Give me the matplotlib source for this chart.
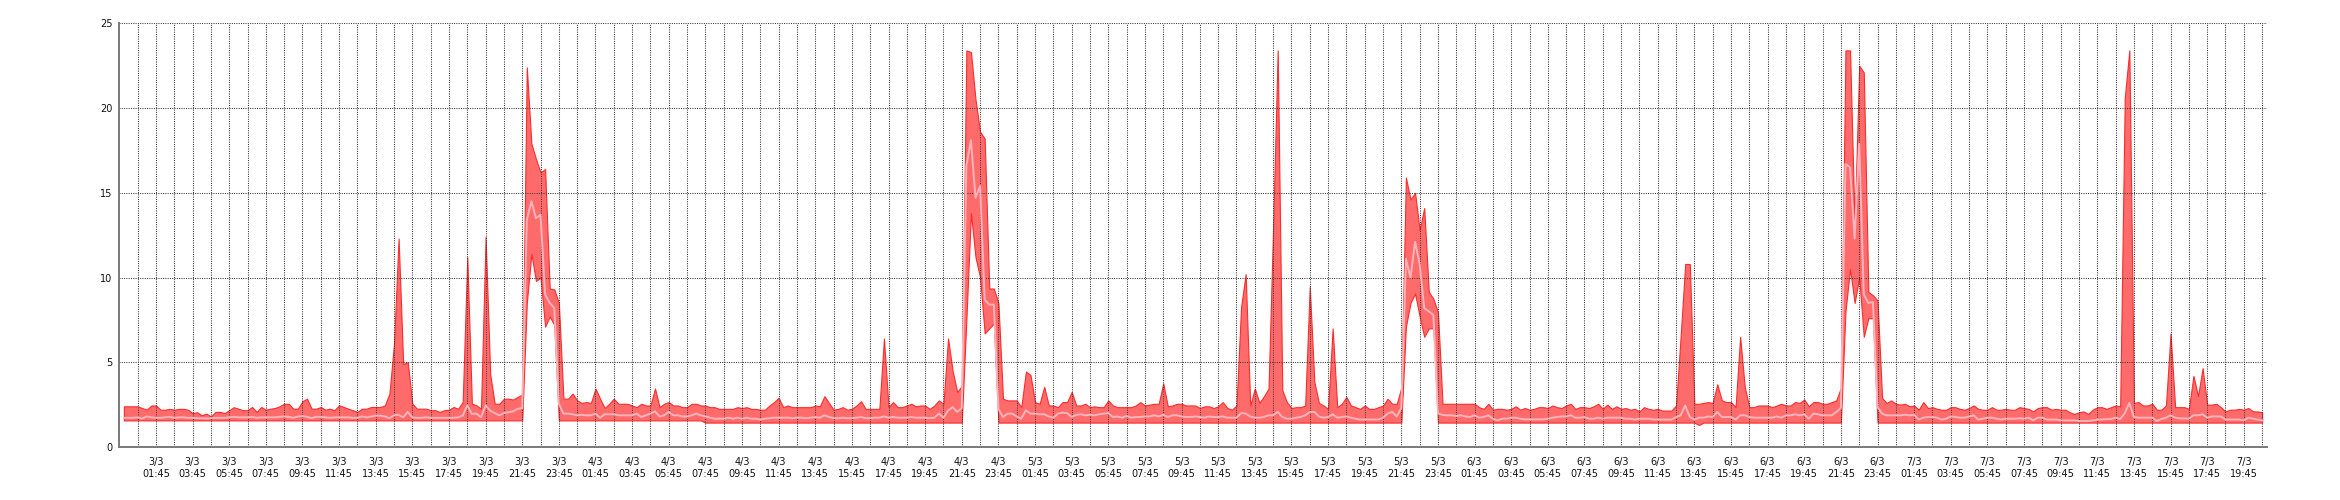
import matplotlib
matplotlib.use("Agg")
import matplotlib.pyplot as plt
import matplotlib.dates as mdates
from matplotlib.ticker import FixedLocator
import pandas as pd

# ---------------- data (15-minute samples from 3/3 00:00) ----------------
start_time = "2023-03-03 00:00"
sample_freq = "15min"

upper = [
    2.4, 2.4, 2.4, 2.4, 2.3, 2.2, 2.45, 2.45, 2.2, 2.2, 2.25, 2.2, 2.25, 2.25, 2.2, 2.0,
    2.05, 1.87, 1.97, 1.8, 2.07, 2.07, 2.0, 2.17, 2.35, 2.26, 2.17, 2.17, 2.36, 2.07, 2.36, 2.2,
    2.26, 2.3, 2.4, 2.55, 2.55, 2.26, 2.26, 2.7, 2.85, 2.26, 2.26, 2.36, 2.2, 2.26, 2.17, 2.46,
    2.36, 2.26, 2.17, 2.07, 2.26, 2.26, 2.36, 2.36, 2.36, 2.46, 3.15, 6.1, 12.3, 4.9, 5.0, 2.55,
    2.26, 2.26, 2.26, 2.17, 2.17, 2.07, 2.17, 2.2, 2.36, 2.26, 2.65, 11.2, 2.56, 2.46, 2.26, 12.4,
    4.3, 2.55, 2.55, 2.85, 2.85, 2.8, 2.95, 3.1, 22.4, 17.9, 17.0, 16.2, 16.4, 9.35, 9.3, 8.5,
    2.85, 2.85, 3.15, 2.75, 2.6, 2.65, 2.6, 3.45, 2.85, 2.3, 2.55, 2.85, 2.55, 2.55, 2.55, 2.45,
    2.35, 2.55, 2.45, 2.45, 3.45, 2.35, 2.55, 2.65, 2.45, 2.45, 2.35, 2.35, 2.55, 2.55, 2.45, 2.45,
    2.35, 2.35, 2.25, 2.25, 2.25, 2.25, 2.35, 2.3, 2.35, 2.25, 2.25, 2.2, 2.2, 2.45, 2.65, 2.9,
    2.35, 2.45, 2.35, 2.35, 2.35, 2.35, 2.35, 2.45, 2.4, 3.0, 2.6, 2.2, 2.25, 2.35, 2.2, 2.25,
    2.45, 2.7, 2.25, 2.25, 2.25, 2.25, 6.4, 2.35, 2.65, 2.35, 2.35, 2.45, 2.55, 2.4, 2.45, 2.45,
    2.25, 2.45, 2.75, 2.55, 6.4, 4.5, 3.25, 3.6, 23.4, 23.3, 20.5, 18.6, 18.2, 9.35, 9.35, 8.5,
    2.85, 2.75, 2.75, 2.75, 2.35, 4.45, 4.25, 2.65, 2.55, 3.55, 2.45, 2.45, 2.35, 2.65, 2.65, 3.25,
    2.45, 2.45, 2.55, 2.35, 2.4, 2.35, 2.35, 2.75, 2.45, 2.35, 2.35, 2.35, 2.35, 2.45, 2.65, 2.45,
    2.5, 2.55, 2.55, 3.75, 2.4, 2.45, 2.55, 2.55, 2.45, 2.45, 2.45, 2.3, 2.4, 2.4, 2.3, 2.4,
    2.65, 2.3, 2.2, 2.45, 8.25, 10.2, 2.45, 3.45, 2.6, 3.0, 3.45, 13.0, 23.4, 3.35, 2.65, 2.3,
    2.35, 2.35, 2.45, 9.45, 3.85, 2.6, 2.45, 2.25, 7.0, 2.35, 2.55, 2.95, 2.45, 2.35, 2.25, 2.45,
    2.25, 2.25, 2.35, 2.45, 2.85, 2.55, 2.55, 3.5, 15.9, 14.6, 15.0, 12.8, 14.1, 9.15, 8.75, 7.95,
    2.55, 2.55, 2.55, 2.55, 2.55, 2.55, 2.55, 2.55, 2.35, 2.25, 2.55, 2.2, 2.25, 2.25, 2.2, 2.25,
    2.4, 2.2, 2.3, 2.2, 2.25, 2.35, 2.35, 2.3, 2.45, 2.35, 2.3, 2.45, 2.55, 2.25, 2.35, 2.35,
    2.3, 2.4, 2.55, 2.25, 2.5, 2.25, 2.4, 2.25, 2.3, 2.2, 2.25, 2.1, 2.35, 2.25, 2.2, 2.25,
    2.15, 2.15, 2.15, 2.45, 6.5, 10.8, 10.8, 2.55, 2.55, 2.6, 2.65, 2.6, 3.7, 2.75, 2.65, 2.65,
    2.35, 6.5, 3.55, 2.35, 2.35, 2.45, 2.45, 2.45, 2.35, 2.45, 2.55, 2.45, 2.45, 2.65, 2.6, 2.8,
    2.4, 2.65, 2.65, 2.55, 2.55, 2.65, 2.75, 3.5, 23.4, 23.4, 13.0, 22.5, 22.1, 9.15, 8.95, 8.65,
    2.9, 2.6, 2.75, 2.55, 2.5, 2.55, 2.4, 2.45, 2.2, 2.65, 2.3, 2.35, 2.25, 2.2, 2.2, 2.35,
    2.35, 2.25, 2.2, 2.3, 2.45, 2.25, 2.2, 2.2, 2.35, 2.2, 2.2, 2.25, 2.2, 2.2, 2.35, 2.3,
    2.25, 2.1, 2.3, 2.35, 2.35, 2.2, 2.25, 2.2, 2.2, 2.05, 1.95, 2.05, 2.1, 1.95, 2.2, 2.35,
    2.35, 2.25, 2.35, 2.45, 2.4, 20.6, 23.4, 2.6, 2.65, 2.45, 2.45, 2.55, 2.2, 2.2, 2.45, 6.7,
    2.35, 2.35, 2.35, 2.25, 4.2, 3.0, 4.65, 2.5, 2.5, 2.55, 2.35, 2.1, 2.2, 2.2, 2.25, 2.2,
    2.3, 2.1, 2.1, 2.05,
]

lower = [
    1.57, 1.57, 1.57, 1.57, 1.57, 1.57, 1.57, 1.57, 1.57, 1.57, 1.57, 1.57, 1.57, 1.57, 1.57, 1.57,
    1.57, 1.57, 1.57, 1.57, 1.57, 1.57, 1.57, 1.57, 1.57, 1.57, 1.57, 1.57, 1.57, 1.57, 1.57, 1.57,
    1.57, 1.57, 1.57, 1.57, 1.57, 1.57, 1.57, 1.57, 1.57, 1.57, 1.57, 1.57, 1.57, 1.57, 1.57, 1.57,
    1.57, 1.57, 1.57, 1.57, 1.57, 1.57, 1.57, 1.57, 1.57, 1.57, 1.57, 1.57, 1.57, 1.57, 1.57, 1.57,
    1.57, 1.57, 1.57, 1.57, 1.57, 1.57, 1.57, 1.57, 1.57, 1.57, 1.57, 1.57, 1.57, 1.57, 1.57, 1.57,
    1.57, 1.57, 1.57, 1.57, 1.57, 1.57, 1.57, 1.57, 8.5, 11.4, 9.8, 10.0, 7.1, 7.7, 7.2, 1.57,
    1.57, 1.57, 1.57, 1.57, 1.57, 1.57, 1.57, 1.57, 1.57, 1.57, 1.57, 1.57, 1.57, 1.57, 1.57, 1.57,
    1.57, 1.57, 1.57, 1.57, 1.57, 1.57, 1.57, 1.57, 1.57, 1.57, 1.57, 1.57, 1.57, 1.57, 1.57, 1.44,
    1.44, 1.44, 1.44, 1.44, 1.44, 1.44, 1.44, 1.44, 1.44, 1.44, 1.44, 1.44, 1.44, 1.44, 1.44, 1.44,
    1.44, 1.44, 1.44, 1.44, 1.44, 1.44, 1.44, 1.44, 1.44, 1.44, 1.44, 1.44, 1.44, 1.44, 1.44, 1.44,
    1.44, 1.44, 1.44, 1.44, 1.44, 1.44, 1.44, 1.44, 1.44, 1.44, 1.44, 1.44, 1.44, 1.44, 1.44, 1.44,
    1.44, 1.44, 1.44, 1.44, 1.44, 1.44, 1.44, 1.44, 7.5, 13.8, 11.2, 10.0, 6.7, 7.0, 7.3, 1.44,
    1.44, 1.44, 1.44, 1.44, 1.44, 1.44, 1.44, 1.44, 1.44, 1.44, 1.44, 1.44, 1.44, 1.44, 1.44, 1.44,
    1.44, 1.44, 1.44, 1.44, 1.44, 1.44, 1.44, 1.44, 1.44, 1.44, 1.44, 1.44, 1.44, 1.44, 1.44, 1.44,
    1.44, 1.44, 1.44, 1.44, 1.44, 1.44, 1.44, 1.44, 1.44, 1.44, 1.44, 1.44, 1.44, 1.44, 1.44, 1.44,
    1.44, 1.44, 1.44, 1.44, 1.44, 1.44, 1.44, 1.44, 1.44, 1.44, 1.44, 1.44, 1.44, 1.44, 1.44, 1.44,
    1.44, 1.44, 1.44, 1.44, 1.44, 1.44, 1.44, 1.44, 1.44, 1.44, 1.44, 1.44, 1.44, 1.44, 1.44, 1.44,
    1.44, 1.44, 1.44, 1.44, 1.44, 1.44, 1.44, 1.44, 7.1, 8.5, 9.05, 7.7, 6.5, 7.0, 7.0, 1.44,
    1.44, 1.44, 1.44, 1.44, 1.44, 1.44, 1.44, 1.44, 1.44, 1.44, 1.44, 1.44, 1.44, 1.44, 1.44, 1.44,
    1.44, 1.44, 1.44, 1.44, 1.44, 1.44, 1.44, 1.44, 1.44, 1.44, 1.44, 1.44, 1.44, 1.44, 1.44, 1.44,
    1.44, 1.44, 1.44, 1.44, 1.44, 1.44, 1.44, 1.44, 1.44, 1.44, 1.44, 1.44, 1.44, 1.44, 1.44, 1.44,
    1.44, 1.44, 1.44, 1.44, 1.44, 1.44, 1.44, 1.44, 1.3, 1.44, 1.44, 1.44, 1.44, 1.44, 1.44, 1.44,
    1.44, 1.44, 1.44, 1.44, 1.44, 1.44, 1.44, 1.44, 1.44, 1.44, 1.44, 1.44, 1.44, 1.44, 1.44, 1.44,
    1.44, 1.44, 1.44, 1.44, 1.44, 1.44, 1.44, 1.44, 8.0, 10.5, 8.5, 10.0, 6.5, 7.6, 7.6, 1.44,
    1.44, 1.44, 1.44, 1.44, 1.44, 1.44, 1.44, 1.44, 1.44, 1.44, 1.44, 1.44, 1.44, 1.44, 1.44, 1.44,
    1.44, 1.44, 1.44, 1.44, 1.44, 1.44, 1.44, 1.44, 1.44, 1.44, 1.44, 1.44, 1.44, 1.44, 1.44, 1.44,
    1.44, 1.44, 1.44, 1.44, 1.44, 1.44, 1.44, 1.44, 1.44, 1.44, 1.44, 1.44, 1.44, 1.44, 1.44, 1.44,
    1.44, 1.44, 1.44, 1.44, 1.44, 1.44, 1.44, 1.44, 1.44, 1.44, 1.44, 1.44, 1.44, 1.44, 1.44, 1.44,
    1.44, 1.44, 1.44, 1.44, 1.44, 1.44, 1.44, 1.44, 1.44, 1.44, 1.44, 1.44, 1.44, 1.44, 1.44, 1.44,
    1.44, 1.44, 1.44, 1.44,
]

average = [
    1.72, 1.72, 1.72, 1.75, 1.68, 1.8, 1.75, 1.72, 1.72, 1.75, 1.78, 1.72, 1.75, 1.75, 1.72, 1.72,
    1.7, 1.7, 1.68, 1.7, 1.72, 1.72, 1.72, 1.75, 1.78, 1.75, 1.75, 1.75, 1.78, 1.72, 1.75, 1.75,
    1.75, 1.75, 1.78, 1.8, 1.78, 1.72, 1.8, 1.82, 1.78, 1.7, 1.78, 1.78, 1.75, 1.72, 1.75, 1.75,
    1.75, 1.75, 1.72, 1.72, 1.8, 1.75, 1.8, 1.85, 1.85, 1.8, 1.7, 1.87, 1.9, 1.75, 2.07, 1.75,
    1.72, 1.72, 1.75, 1.72, 1.72, 1.72, 1.72, 1.72, 1.72, 1.75, 1.85, 2.45, 1.95, 1.97, 1.75, 2.45,
    2.15, 2.0, 1.87, 2.0, 2.05, 2.1, 2.25, 2.3, 13.4, 14.5, 13.5, 13.7, 9.0, 8.5, 8.2, 2.55,
    1.97, 1.97, 1.93, 1.87, 1.9, 1.87, 1.87, 1.97, 1.73, 1.93, 1.93, 1.93, 1.87, 1.87, 1.87, 1.87,
    1.97, 1.77, 1.87, 1.97, 2.1, 1.8, 1.87, 2.07, 1.87, 1.87, 1.8, 1.8, 1.87, 1.97, 1.87, 1.8,
    1.73, 1.67, 1.67, 1.67, 1.73, 1.67, 1.73, 1.67, 1.73, 1.67, 1.67, 1.62, 1.67, 1.7, 1.73, 1.73,
    1.73, 1.73, 1.7, 1.73, 1.73, 1.7, 1.73, 1.77, 1.73, 1.87, 1.77, 1.7, 1.7, 1.73, 1.7, 1.7,
    1.73, 1.77, 1.7, 1.7, 1.73, 1.73, 1.8, 1.73, 1.77, 1.73, 1.73, 1.73, 1.77, 1.73, 1.73, 1.73,
    1.7, 1.73, 1.97, 1.73, 2.15, 2.35, 2.07, 2.3, 16.6, 18.1, 14.7, 15.4, 8.7, 8.4, 8.4, 2.25,
    1.77, 1.97, 1.97, 1.8, 1.67, 2.17, 1.97, 1.97, 1.93, 1.93, 1.8, 1.73, 1.97, 2.03, 2.0, 1.77,
    1.9, 1.93, 1.87, 1.9, 1.87, 1.93, 1.97, 2.0, 1.77, 1.8, 1.73, 1.83, 1.73, 1.77, 1.77, 1.8,
    1.8, 1.87, 1.8, 1.9, 1.77, 1.87, 1.87, 1.8, 1.77, 1.77, 1.8, 1.77, 1.73, 1.8, 1.77, 1.77,
    1.8, 1.73, 1.73, 1.73, 2.0, 1.97, 1.8, 1.73, 1.73, 1.77, 1.87, 1.87, 2.07, 1.77, 1.67, 1.67,
    1.73, 1.77, 1.87, 2.07, 2.07, 1.8, 1.73, 1.77, 1.93, 1.73, 1.77, 1.8, 1.73, 1.67, 1.62, 1.62,
    1.62, 1.62, 1.62, 1.73, 1.97, 2.07, 1.8, 2.3, 11.1, 10.0, 12.1, 10.8, 8.2, 8.0, 7.8, 1.97,
    1.9, 1.87, 1.87, 1.83, 1.87, 1.8, 1.77, 1.87, 1.73, 1.77, 1.87, 1.67, 1.57, 1.67, 1.67, 1.73,
    1.73, 1.67, 1.63, 1.63, 1.63, 1.63, 1.63, 1.67, 1.73, 1.77, 1.8, 1.8, 1.87, 1.73, 1.73, 1.77,
    1.67, 1.67, 1.73, 1.67, 1.73, 1.73, 1.73, 1.73, 1.67, 1.67, 1.62, 1.67, 1.67, 1.67, 1.63, 1.62,
    1.62, 1.62, 1.62, 1.77, 1.87, 2.45, 1.77, 1.62, 1.73, 1.73, 1.8, 1.77, 2.07, 1.77, 1.77, 1.77,
    1.62, 1.87, 1.87, 1.77, 1.73, 1.73, 1.73, 1.73, 1.73, 1.8, 1.73, 1.87, 1.87, 1.93, 1.87, 1.93,
    1.67, 1.97, 1.93, 1.87, 1.87, 1.87, 2.07, 2.3, 16.7, 16.5, 12.3, 17.9, 9.0, 8.5, 8.55, 2.35,
    1.97, 1.87, 1.87, 1.87, 1.87, 1.9, 1.87, 1.9, 1.62, 1.73, 1.77, 1.77, 1.73, 1.62, 1.67, 1.8,
    1.77, 1.73, 1.73, 1.8, 1.87, 1.62, 1.67, 1.73, 1.73, 1.67, 1.62, 1.67, 1.67, 1.67, 1.69, 1.67,
    1.73, 1.57, 1.73, 1.73, 1.62, 1.62, 1.62, 1.57, 1.57, 1.57, 1.57, 1.53, 1.53, 1.53, 1.57, 1.62,
    1.62, 1.65, 1.65, 1.73, 1.65, 2.0, 2.6, 1.77, 1.73, 1.73, 1.73, 1.73, 1.53, 1.65, 1.73, 1.87,
    1.73, 1.69, 1.69, 1.67, 1.87, 1.87, 1.93, 1.73, 1.8, 1.8, 1.8, 1.62, 1.62, 1.62, 1.62, 1.57,
    1.73, 1.67, 1.62, 1.57,
]

y_ticks = [0, 5, 10, 15, 20, 25]
x_start = "2023-03-02 23:45"
x_end = "2023-03-07 21:00"
label_first, label_last = "2023-03-03 01:45", "2023-03-07 19:45"
grid_first, grid_last = "2023-03-03 00:45", "2023-03-07 20:45"

# ---------------- figure ----------------
times = pd.date_range(start_time, periods=len(upper), freq=sample_freq)
tnum = mdates.date2num(times.to_pydatetime())

fig = plt.figure(figsize=(23.4, 5.0), dpi=100)
ax = fig.add_axes([119.3 / 2340, 1 - 447.0 / 500, (2266.7 - 119.3) / 2340, (447.0 - 23.3) / 500])

ax.fill_between(tnum, lower, upper, facecolor="#FF6B6B", edgecolor="#FF2B2B",
                linewidth=0.8, zorder=1)
ax.plot(tnum, average, color="#FFB4BC", linewidth=1.4, zorder=3)

ax.set_ylim(0, 25)
ax.set_yticks(y_ticks)
ax.set_xlim(mdates.date2num(pd.Timestamp(x_start)), mdates.date2num(pd.Timestamp(x_end)))

label_times = pd.date_range(label_first, label_last, freq="2h")
grid_times = pd.date_range(grid_first, grid_last, freq="1h")
ax.xaxis.set_major_locator(FixedLocator(mdates.date2num(label_times.to_pydatetime())))
ax.xaxis.set_minor_locator(FixedLocator(mdates.date2num(grid_times.to_pydatetime())))
ax.xaxis.set_major_formatter(mdates.DateFormatter("%-d/%-m\n%H:%M"))

ax.set_axisbelow(False)
grid_kw = dict(color="#3a3a3a", linewidth=0.75, linestyle=(0, (1, 1.2)))
ax.grid(True, which="both", axis="x", **grid_kw)
ax.grid(True, which="major", axis="y", **grid_kw)

for side in ("top", "right"):
    ax.spines[side].set_visible(False)
for side in ("left", "bottom"):
    ax.spines[side].set_color("#7a7a7a")
    ax.spines[side].set_linewidth(1.4)
    ax.spines[side].set_zorder(4)

ax.tick_params(axis="both", which="both", length=0, labelsize=7, labelcolor="#111111")
ax.tick_params(axis="x", pad=7)
ax.tick_params(axis="y", pad=5)
for lab in ax.get_xticklabels():
    lab.set_linespacing(1.25)

fig.savefig("out.png", dpi=100, facecolor="white")
